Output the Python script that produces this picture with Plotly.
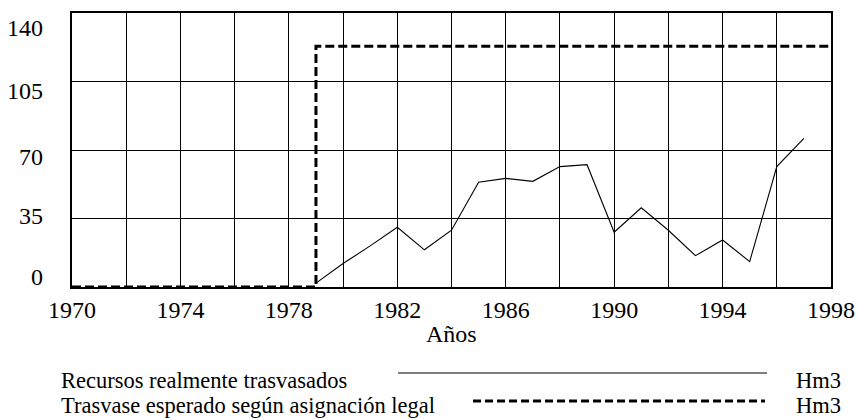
import plotly.graph_objects as go

# ---- data ----
years = [1979, 1980, 1981, 1982, 1983, 1984, 1985, 1986, 1987, 1988,
         1989, 1990, 1991, 1992, 1993, 1994, 1995, 1996, 1997]
recursos = [2, 12, 21, 30.5, 19, 29, 53.5, 55.5, 54, 61.5,
            62.5, 28, 40.5, 29, 16, 24, 13, 61.5, 76]

esperado_years = [1970, 1979, 1998]
esperado_values = [0, 123, 123]

x_tick_labels = [1970, 1974, 1978, 1982, 1986, 1990, 1994, 1998]
y_tick_labels = [0, 35, 70, 105, 140]

legend_labels = ["Recursos realmente trasvasados",
                 "Trasvase esperado según asignación legal"]
unit_label = "Hm3"
x_title = "Años"

# ---- style ----
FONT = "Liberation Serif"
FS = 24
LFS = 22.5
y_label_shift = [10, 3, -7, -9, -15]
W, H = 859, 418
L, R, T, B = 72, 28, 13, 131
PW, PH = W - L - R, H - T - B


def px(xp):
    return (xp - L) / PW


def py(yp):
    return (H - B - yp) / PH


fig = go.Figure()
fig.add_trace(go.Scatter(x=esperado_years, y=esperado_values, mode="lines",
                         line=dict(color="black", width=3, dash="9px,4px", shape="hv"),
                         showlegend=False, hoverinfo="skip", cliponaxis=False))
fig.add_trace(go.Scatter(x=years, y=recursos, mode="lines",
                         line=dict(color="black", width=1.1),
                         showlegend=False, hoverinfo="skip"))

fig.update_xaxes(range=[1970, 1998], tickvals=x_tick_labels,
                 ticktext=[str(v) for v in x_tick_labels],
                 showgrid=True, gridcolor="black", gridwidth=1,
                 minor=dict(dtick=2, tick0=1970, showgrid=True, gridcolor="black", gridwidth=1),
                 showline=True, linecolor="black", linewidth=2, mirror=True,
                 ticks="", zeroline=False, automargin=False,
                 tickfont=dict(family=FONT, size=FS, color="black"))
fig.update_yaxes(range=[0, 140], tickvals=y_tick_labels, showticklabels=False,
                 showgrid=True, gridcolor="black", gridwidth=1,
                 showline=True, linecolor="black", linewidth=2, mirror=True,
                 ticks="", zeroline=False, automargin=False)

annotations = []
for v, s in zip(y_tick_labels, y_label_shift):
    annotations.append(dict(x=0, xref="paper", y=v, yref="y", text=str(v),
                            xanchor="right", yanchor="middle", xshift=-27, yshift=s,
                            showarrow=False, font=dict(family=FONT, size=FS, color="black")))

annotations.append(dict(x=0.5, xref="paper", y=py(334), yref="paper", text=x_title,
                        xanchor="center", yanchor="middle", showarrow=False,
                        font=dict(family=FONT, size=FS, color="black")))

legend_text_y = [380, 405]
for lab, ly in zip(legend_labels, legend_text_y):
    annotations.append(dict(x=px(60), xref="paper", y=py(ly), yref="paper", text=lab,
                            xanchor="left", yanchor="middle", showarrow=False, borderpad=0,
                            font=dict(family=FONT, size=LFS, color="black")))
    annotations.append(dict(x=px(795), xref="paper", y=py(ly), yref="paper", text=unit_label,
                            xanchor="left", yanchor="middle", showarrow=False, borderpad=0,
                            font=dict(family=FONT, size=LFS, color="black")))

shapes = [
    dict(type="line", xref="paper", yref="paper", x0=px(398), x1=px(767),
         y0=py(373), y1=py(373), line=dict(color="black", width=1.1)),
    dict(type="line", xref="paper", yref="paper", x0=px(473), x1=px(765),
         y0=py(401), y1=py(401), line=dict(color="black", width=3, dash="8px,4px")),
]

fig.update_layout(width=W, height=H, margin=dict(l=L, r=R, t=T, b=B),
                  plot_bgcolor="white", paper_bgcolor="white",
                  annotations=annotations, shapes=shapes,
                  font=dict(family=FONT, color="black"))

fig.write_html("out.html", config={"displayModeBar": False},
               post_script="document.body.style.margin='0';document.body.style.padding='0';")
